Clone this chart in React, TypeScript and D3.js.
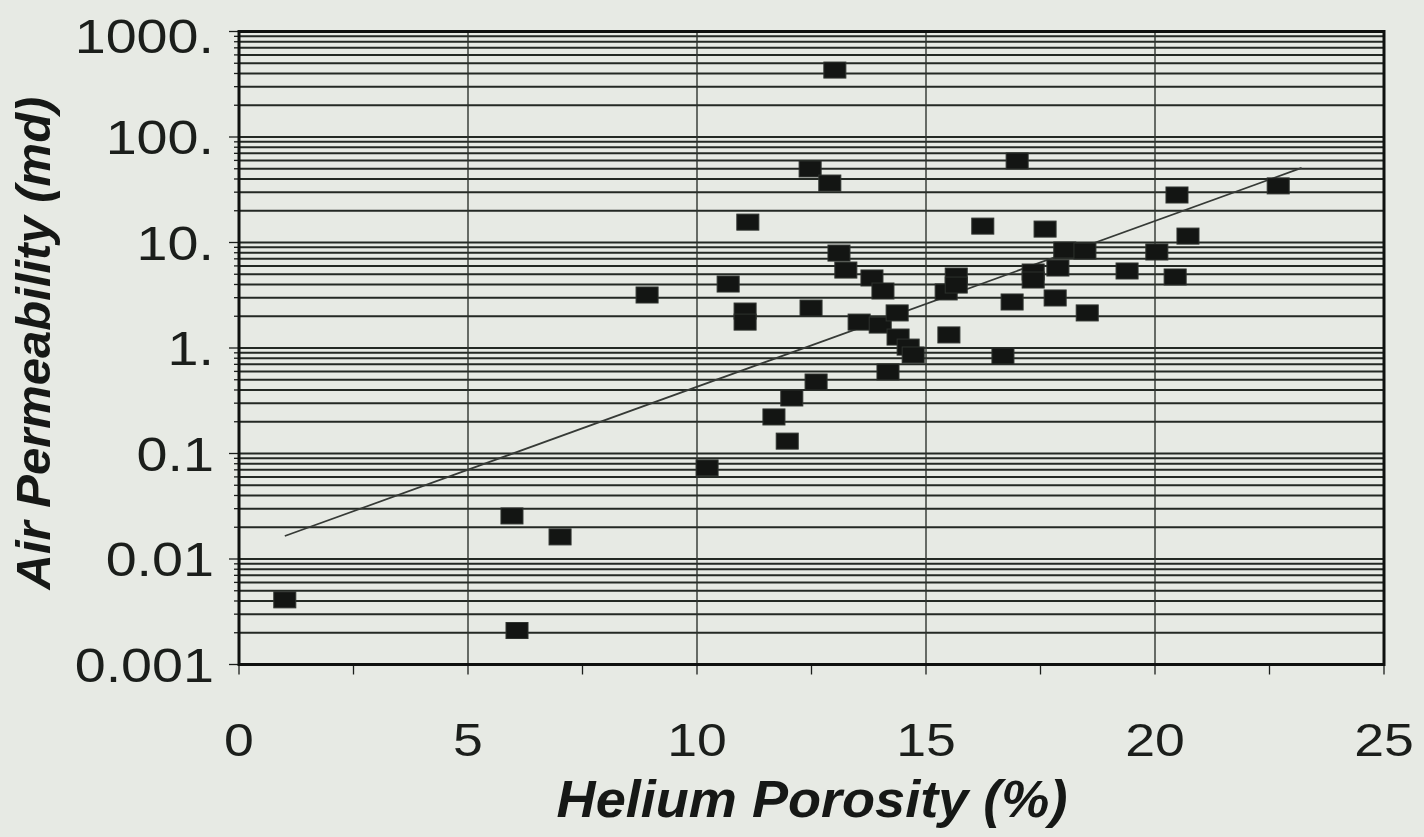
import React from 'react';
import * as d3 from 'd3';

// Helium porosity (%) vs air permeability (md)
const porosity = [
  1.0, 5.96, 6.07, 7.01, 8.91, 10.22, 10.68, 11.11, 11.05, 11.05,
  11.68, 11.97, 12.07, 12.47, 12.49, 12.6, 12.9, 13.01, 13.1, 13.25,
  13.54, 13.82, 14.06, 14.0, 14.37, 14.17, 14.39, 14.61, 14.72, 15.44,
  15.66, 15.66, 15.5, 16.24, 16.68, 16.88, 16.99, 17.34, 17.34, 17.6,
  17.82, 17.88, 18.03, 18.47, 18.52, 19.39, 20.04, 20.44, 20.48, 20.72,
  22.69,
];
const permeability = [
  0.0041, 0.0256, 0.0021, 0.0162, 3.18, 0.073, 4.04, 15.6, 2.24, 1.76,
  0.222, 0.131, 0.336, 49.8, 2.39, 0.476, 36.6, 431, 7.94, 5.48,
  1.76, 4.61, 3.47, 1.65, 2.15, 0.593, 1.27, 1.02, 0.859, 3.4,
  4.81, 3.95, 1.33, 14.3, 0.84, 2.73, 59.3, 5.25, 4.41, 13.4,
  2.98, 5.73, 8.49, 8.3, 2.15, 5.37, 8.13, 4.71, 28.2, 11.5,
  34.4,
];

// exponential trend line end points
const trendPorosity = [1.0, 23.2];
const trendPerm = [0.0165, 51];

const xTicks = [0, 5, 10, 15, 20, 25];
const xMinorTicks = [2.5, 7.5, 12.5, 17.5, 22.5];
const yTicks = [0.001, 0.01, 0.1, 1, 10, 100, 1000];
const yTickLabels = ['0.001', '0.01', '0.1', '1.', '10.', '100.', '1000.'];

const W = 1424;
const H = 837;
const left = 239;
const right = 1384;
const top = 31.5;
const bottom = 664.5;

const ink = '#1b1e1b';
const font = '"Liberation Sans", Arial, sans-serif';

export default function App() {
  const x = d3.scaleLinear().domain([0, 25]).range([left, right]);
  const y = d3.scaleLog().domain([0.001, 1000]).range([bottom, top]);

  // every 1..9 x 10^n line of the log grid
  const gridVals: number[] = [];
  for (let e = -3; e < 3; e++) {
    for (let k = 1; k <= 9; k++) gridVals.push(k * Math.pow(10, e));
  }
  gridVals.push(1000);

  const trend = d3.line<number>()
    .x((_, i) => x(trendPorosity[i]))
    .y(d => y(d));

  const points = porosity.map((p, i) => ({ p, k: permeability[i] }));

  return (
    <div style={{ position: 'fixed', left: 0, top: 0, width: W, height: H, background: '#e7eae4' }}>
      <svg width={W} height={H} style={{ display: 'block' }}>
        <rect width={W} height={H} fill="#e7eae4" />

        {/* horizontal log grid */}
        {gridVals.map((v, i) => (
          <line key={'g' + i} x1={left} x2={right} y1={y(v)} y2={y(v)}
            stroke="#242924" strokeWidth={2} />
        ))}
        {/* y ticks outside */}
        {gridVals.map((v, i) => {
          const major = Math.abs(Math.log10(v) - Math.round(Math.log10(v))) < 1e-9;
          return (
            <line key={'t' + i} x1={left - (major ? 10 : 5)} x2={left} y1={y(v)} y2={y(v)}
              stroke={ink} strokeWidth={1.3} />
          );
        })}

        {/* vertical grid */}
        {xTicks.slice(1, -1).map(t => (
          <line key={'v' + t} x1={x(t)} x2={x(t)} y1={top} y2={bottom}
            stroke="#2f342f" strokeWidth={1.4} />
        ))}
        {/* x ticks */}
        {[...xTicks, ...xMinorTicks].map(t => (
          <line key={'xt' + t} x1={x(t)} x2={x(t)} y1={bottom} y2={bottom + 10}
            stroke={ink} strokeWidth={1.3} />
        ))}

        {/* trend line */}
        <path d={trend(trendPerm) || ''} fill="none" stroke="#363a36" strokeWidth={1.7} />

        {/* data points */}
        {points.map((d, i) => (
          <rect key={'p' + i} x={x(d.p) - 11} y={y(d.k) - 8} width={22} height={16}
            fill="#131513" stroke="#2e322e" strokeWidth={1} />
        ))}

        {/* frame */}
        <rect x={left} y={top} width={right - left} height={bottom - top}
          fill="none" stroke="#0f110f" strokeWidth={3} />

        {/* y tick labels */}
        {yTicks.map((t, i) => (
          <text key={'yl' + t} x={214} y={y(t) + (t === 1000 ? 4 : 0)} dy="0.36em" textAnchor="end"
            fontFamily={font} fontSize={48} fill={ink}
            transform={`translate(214,0) scale(1.16,1) translate(-214,0)`}>
            {yTickLabels[i]}
          </text>
        ))}

        {/* x tick labels */}
        {xTicks.map(t => (
          <text key={'xl' + t} x={x(t)} y={756} textAnchor="middle"
            fontFamily={font} fontSize={47} fill={ink}
            transform={`translate(${x(t)},0) scale(1.14,1) translate(${-x(t)},0)`}>
            {t}
          </text>
        ))}

        {/* axis titles */}
        <text x={812} y={817} textAnchor="middle" fontFamily={font} fontSize={52}
          fontWeight="bold" fontStyle="italic" fill="#161816"
          transform="translate(812,0) scale(1.04,1) translate(-812,0)">
          Helium Porosity (%)
        </text>
        <text transform="translate(50,343) rotate(-90)" textAnchor="middle"
          fontFamily={font} fontSize={49} fontWeight="bold" fontStyle="italic" fill="#161816">
          Air Permeability (md)
        </text>
      </svg>
    </div>
  );
}
